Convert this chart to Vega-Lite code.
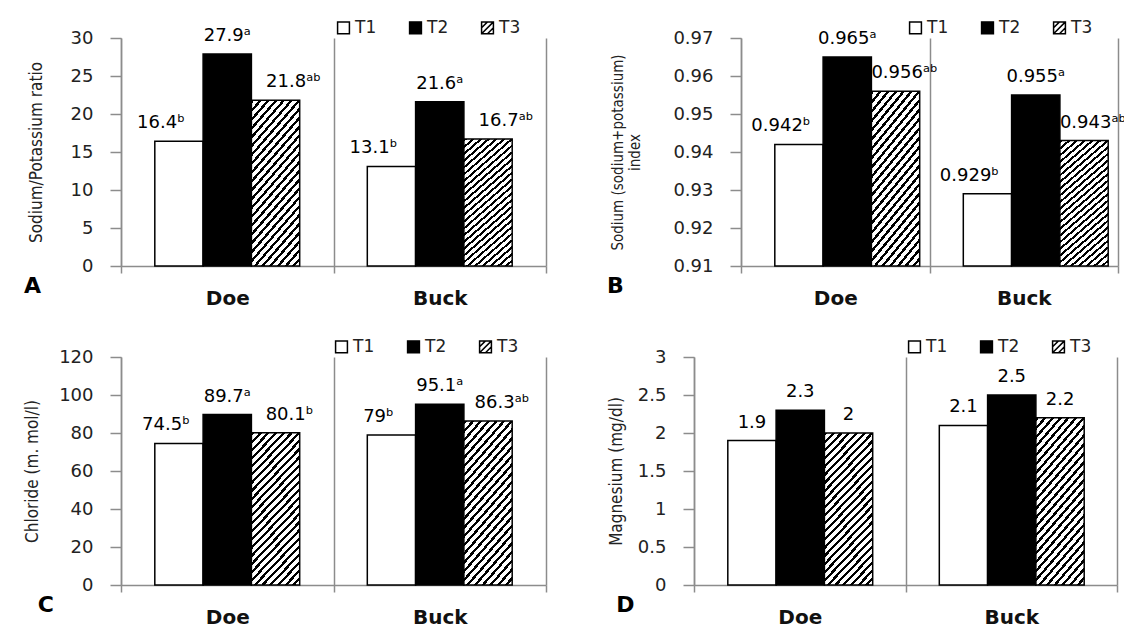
{
  "$schema": "https://vega.github.io/schema/vega-lite/v6.json",
  "background": "white",
  "padding": {"left": 23, "top": 19, "right": 0, "bottom": 0},
  "datasets": {
    "A": [
      {"g": "Doe", "t": "T1", "v": 16.4, "label": "16.4\u1d47"},
      {"g": "Doe", "t": "T2", "v": 27.9, "label": "27.9\u1d43"},
      {"g": "Doe", "t": "T3", "v": 21.8, "label": "21.8\u1d43\u1d47"},
      {"g": "Buck", "t": "T1", "v": 13.1, "label": "13.1\u1d47"},
      {"g": "Buck", "t": "T2", "v": 21.6, "label": "21.6\u1d43"},
      {"g": "Buck", "t": "T3", "v": 16.7, "label": "16.7\u1d43\u1d47"}
    ],
    "B": [
      {"g": "Doe", "t": "T1", "v": 0.942, "label": "0.942\u1d47"},
      {"g": "Doe", "t": "T2", "v": 0.965, "label": "0.965\u1d43"},
      {"g": "Doe", "t": "T3", "v": 0.956, "label": "0.956\u1d43\u1d47"},
      {"g": "Buck", "t": "T1", "v": 0.929, "label": "0.929\u1d47"},
      {"g": "Buck", "t": "T2", "v": 0.955, "label": "0.955\u1d43"},
      {"g": "Buck", "t": "T3", "v": 0.943, "label": "0.943\u1d43\u1d47"}
    ],
    "C": [
      {"g": "Doe", "t": "T1", "v": 74.5, "label": "74.5\u1d47"},
      {"g": "Doe", "t": "T2", "v": 89.7, "label": "89.7\u1d43"},
      {"g": "Doe", "t": "T3", "v": 80.1, "label": "80.1\u1d47"},
      {"g": "Buck", "t": "T1", "v": 79, "label": "79\u1d47"},
      {"g": "Buck", "t": "T2", "v": 95.1, "label": "95.1\u1d43"},
      {"g": "Buck", "t": "T3", "v": 86.3, "label": "86.3\u1d43\u1d47"}
    ],
    "D": [
      {"g": "Doe", "t": "T1", "v": 1.9, "label": "1.9"},
      {"g": "Doe", "t": "T2", "v": 2.3, "label": "2.3"},
      {"g": "Doe", "t": "T3", "v": 2, "label": "2"},
      {"g": "Buck", "t": "T1", "v": 2.1, "label": "2.1"},
      {"g": "Buck", "t": "T2", "v": 2.5, "label": "2.5"},
      {"g": "Buck", "t": "T3", "v": 2.2, "label": "2.2"}
    ]
  },
  "spacing": 30,
  "align": "none",
  "resolve": {"scale": {"fill": "independent", "shape": "independent"}, "legend": {"fill": "independent", "shape": "independent"}},
  "vconcat": [
    {
      "spacing": 59,
      "resolve": {"scale": {"fill": "independent", "shape": "independent"}, "legend": {"fill": "independent", "shape": "independent"}},
      "hconcat": [
        {
          "width": 425, "height": 228,
          "data": {"name": "A"},
          "title": {"text": "A", "orient": "bottom", "anchor": "start", "frame": "bounds", "font": "DejaVu Sans", "fontSize": 22, "fontWeight": "bold", "color": "#000", "dx": -3, "dy": -32, "offset": 0},
          "encoding": {
            "x": {"field": "g", "type": "nominal", "sort": ["Doe", "Buck"], "scale": {"paddingInner": 0, "paddingOuter": 0}, "axis": {"title": null}},
            "xOffset": {"field": "t", "type": "nominal", "sort": ["T1", "T2", "T3"], "scale": {"paddingInner": 0, "paddingOuter": 0.7}},
            "y": {"field": "v", "type": "quantitative", "scale": {"domain": [0, 30]}, "axis": {"title": "Sodium/Potassium ratio", "values": [0, 5, 10, 15, 20, 25, 30], "titlePadding": 25}}
          },
          "layer": [
            {
              "mark": {"type": "bar", "stroke": "#000", "strokeWidth": 1.5},
              "encoding": {
                "fill": {
                  "condition": {"test": "datum.t === 'T3'", "value": {"gradient": "linear", "x1": 0, "y1": 0, "x2": 0.4, "y2": 1.2, "stops": [{"offset":0,"color":"#000"},{"offset":0.016,"color":"#000"},{"offset":0.016,"color":"#fff"},{"offset":0.04,"color":"#fff"},{"offset":0.04,"color":"#000"},{"offset":0.056,"color":"#000"},{"offset":0.056,"color":"#fff"},{"offset":0.08,"color":"#fff"},{"offset":0.08,"color":"#000"},{"offset":0.096,"color":"#000"},{"offset":0.096,"color":"#fff"},{"offset":0.12,"color":"#fff"},{"offset":0.12,"color":"#000"},{"offset":0.136,"color":"#000"},{"offset":0.136,"color":"#fff"},{"offset":0.16,"color":"#fff"},{"offset":0.16,"color":"#000"},{"offset":0.176,"color":"#000"},{"offset":0.176,"color":"#fff"},{"offset":0.2,"color":"#fff"},{"offset":0.2,"color":"#000"},{"offset":0.216,"color":"#000"},{"offset":0.216,"color":"#fff"},{"offset":0.24,"color":"#fff"},{"offset":0.24,"color":"#000"},{"offset":0.256,"color":"#000"},{"offset":0.256,"color":"#fff"},{"offset":0.28,"color":"#fff"},{"offset":0.28,"color":"#000"},{"offset":0.296,"color":"#000"},{"offset":0.296,"color":"#fff"},{"offset":0.32,"color":"#fff"},{"offset":0.32,"color":"#000"},{"offset":0.336,"color":"#000"},{"offset":0.336,"color":"#fff"},{"offset":0.36,"color":"#fff"},{"offset":0.36,"color":"#000"},{"offset":0.376,"color":"#000"},{"offset":0.376,"color":"#fff"},{"offset":0.4,"color":"#fff"},{"offset":0.4,"color":"#000"},{"offset":0.416,"color":"#000"},{"offset":0.416,"color":"#fff"},{"offset":0.44,"color":"#fff"},{"offset":0.44,"color":"#000"},{"offset":0.456,"color":"#000"},{"offset":0.456,"color":"#fff"},{"offset":0.48,"color":"#fff"},{"offset":0.48,"color":"#000"},{"offset":0.496,"color":"#000"},{"offset":0.496,"color":"#fff"},{"offset":0.52,"color":"#fff"},{"offset":0.52,"color":"#000"},{"offset":0.536,"color":"#000"},{"offset":0.536,"color":"#fff"},{"offset":0.56,"color":"#fff"},{"offset":0.56,"color":"#000"},{"offset":0.576,"color":"#000"},{"offset":0.576,"color":"#fff"},{"offset":0.6,"color":"#fff"},{"offset":0.6,"color":"#000"},{"offset":0.616,"color":"#000"},{"offset":0.616,"color":"#fff"},{"offset":0.64,"color":"#fff"},{"offset":0.64,"color":"#000"},{"offset":0.656,"color":"#000"},{"offset":0.656,"color":"#fff"},{"offset":0.68,"color":"#fff"},{"offset":0.68,"color":"#000"},{"offset":0.696,"color":"#000"},{"offset":0.696,"color":"#fff"},{"offset":0.72,"color":"#fff"},{"offset":0.72,"color":"#000"},{"offset":0.736,"color":"#000"},{"offset":0.736,"color":"#fff"},{"offset":0.76,"color":"#fff"},{"offset":0.76,"color":"#000"},{"offset":0.776,"color":"#000"},{"offset":0.776,"color":"#fff"},{"offset":0.8,"color":"#fff"},{"offset":0.8,"color":"#000"},{"offset":0.816,"color":"#000"},{"offset":0.816,"color":"#fff"},{"offset":0.84,"color":"#fff"},{"offset":0.84,"color":"#000"},{"offset":0.856,"color":"#000"},{"offset":0.856,"color":"#fff"},{"offset":0.88,"color":"#fff"},{"offset":0.88,"color":"#000"},{"offset":0.896,"color":"#000"},{"offset":0.896,"color":"#fff"},{"offset":0.92,"color":"#fff"},{"offset":0.92,"color":"#000"},{"offset":0.936,"color":"#000"},{"offset":0.936,"color":"#fff"},{"offset":0.96,"color":"#fff"},{"offset":0.96,"color":"#000"},{"offset":0.976,"color":"#000"},{"offset":0.976,"color":"#fff"},{"offset":1,"color":"#fff"}]}},
                  "field": "t", "type": "nominal", "scale": {"domain": ["T1", "T2", "T3"], "range": ["#fff", "#000", "#fff"]},
                  "legend": {"title": null, "orient": "none", "legendX": 214, "legendY": -19, "direction": "horizontal"}
                }
              }
            },
            {
              "mark": {"type": "point", "filled": true, "size": 0, "opacity": 1, "stroke": "#000", "strokeWidth": 1.5},
              "encoding": {
                "fill": {"field": "t", "type": "nominal", "scale": {"domain": ["T1", "T2", "T3"], "range": ["#fff", "#000", "#fff"]},
                  "legend": {"title": null, "orient": "none", "legendX": 214, "legendY": -19, "direction": "horizontal"}},
                "shape": {"field": "t", "type": "nominal", "scale": {"domain": ["T1", "T2", "T3"], "range": ["square", "square", "M-1,-1H1V1H-1Z M-1,0L0,-1 M-1,1L1,-1 M0,1L1,0"]},
                  "legend": {"title": null, "orient": "none", "legendX": 214, "legendY": -19, "direction": "horizontal"}}
              }
            },
            {
              "mark": {"type": "text", "font": "DejaVu Sans", "fontSize": 18, "color": "#000", "baseline": "alphabetic", "dy": -13, "dx": {"expr": "datum.t === 'T1' ? -18 : (datum.t === 'T3' ? 18 : 0)"}},
              "encoding": {"text": {"field": "label"}}
            }
          ]
        },
        {
          "width": 377, "height": 228,
          "data": {"name": "B"},
          "title": {"text": "B", "orient": "bottom", "anchor": "start", "frame": "bounds", "font": "DejaVu Sans", "fontSize": 22, "fontWeight": "bold", "color": "#000", "dx": -4, "dy": -32, "offset": 0},
          "encoding": {
            "x": {"field": "g", "type": "nominal", "sort": ["Doe", "Buck"], "scale": {"paddingInner": 0, "paddingOuter": 0}, "axis": {"title": null}},
            "xOffset": {"field": "t", "type": "nominal", "sort": ["T1", "T2", "T3"], "scale": {"paddingInner": 0, "paddingOuter": 0.72}},
            "y": {"field": "v", "type": "quantitative", "scale": {"domain": [0.91, 0.97], "zero": false}, "axis": {"title": ["Sodium (sodium+potassium)", "index"], "titleFontSize": 15, "values": [0.91, 0.92, 0.93, 0.94, 0.95, 0.96, 0.97], "format": ".2f", "titlePadding": 30}}
          },
          "layer": [
            {
              "mark": {"type": "bar", "stroke": "#000", "strokeWidth": 1.5},
              "encoding": {
                "y2": {"datum": 0.91},
                "fill": {
                  "condition": {"test": "datum.t === 'T3'", "value": {"gradient": "linear", "x1": 0, "y1": 0, "x2": 0.4, "y2": 1.2, "stops": [{"offset":0,"color":"#000"},{"offset":0.016,"color":"#000"},{"offset":0.016,"color":"#fff"},{"offset":0.04,"color":"#fff"},{"offset":0.04,"color":"#000"},{"offset":0.056,"color":"#000"},{"offset":0.056,"color":"#fff"},{"offset":0.08,"color":"#fff"},{"offset":0.08,"color":"#000"},{"offset":0.096,"color":"#000"},{"offset":0.096,"color":"#fff"},{"offset":0.12,"color":"#fff"},{"offset":0.12,"color":"#000"},{"offset":0.136,"color":"#000"},{"offset":0.136,"color":"#fff"},{"offset":0.16,"color":"#fff"},{"offset":0.16,"color":"#000"},{"offset":0.176,"color":"#000"},{"offset":0.176,"color":"#fff"},{"offset":0.2,"color":"#fff"},{"offset":0.2,"color":"#000"},{"offset":0.216,"color":"#000"},{"offset":0.216,"color":"#fff"},{"offset":0.24,"color":"#fff"},{"offset":0.24,"color":"#000"},{"offset":0.256,"color":"#000"},{"offset":0.256,"color":"#fff"},{"offset":0.28,"color":"#fff"},{"offset":0.28,"color":"#000"},{"offset":0.296,"color":"#000"},{"offset":0.296,"color":"#fff"},{"offset":0.32,"color":"#fff"},{"offset":0.32,"color":"#000"},{"offset":0.336,"color":"#000"},{"offset":0.336,"color":"#fff"},{"offset":0.36,"color":"#fff"},{"offset":0.36,"color":"#000"},{"offset":0.376,"color":"#000"},{"offset":0.376,"color":"#fff"},{"offset":0.4,"color":"#fff"},{"offset":0.4,"color":"#000"},{"offset":0.416,"color":"#000"},{"offset":0.416,"color":"#fff"},{"offset":0.44,"color":"#fff"},{"offset":0.44,"color":"#000"},{"offset":0.456,"color":"#000"},{"offset":0.456,"color":"#fff"},{"offset":0.48,"color":"#fff"},{"offset":0.48,"color":"#000"},{"offset":0.496,"color":"#000"},{"offset":0.496,"color":"#fff"},{"offset":0.52,"color":"#fff"},{"offset":0.52,"color":"#000"},{"offset":0.536,"color":"#000"},{"offset":0.536,"color":"#fff"},{"offset":0.56,"color":"#fff"},{"offset":0.56,"color":"#000"},{"offset":0.576,"color":"#000"},{"offset":0.576,"color":"#fff"},{"offset":0.6,"color":"#fff"},{"offset":0.6,"color":"#000"},{"offset":0.616,"color":"#000"},{"offset":0.616,"color":"#fff"},{"offset":0.64,"color":"#fff"},{"offset":0.64,"color":"#000"},{"offset":0.656,"color":"#000"},{"offset":0.656,"color":"#fff"},{"offset":0.68,"color":"#fff"},{"offset":0.68,"color":"#000"},{"offset":0.696,"color":"#000"},{"offset":0.696,"color":"#fff"},{"offset":0.72,"color":"#fff"},{"offset":0.72,"color":"#000"},{"offset":0.736,"color":"#000"},{"offset":0.736,"color":"#fff"},{"offset":0.76,"color":"#fff"},{"offset":0.76,"color":"#000"},{"offset":0.776,"color":"#000"},{"offset":0.776,"color":"#fff"},{"offset":0.8,"color":"#fff"},{"offset":0.8,"color":"#000"},{"offset":0.816,"color":"#000"},{"offset":0.816,"color":"#fff"},{"offset":0.84,"color":"#fff"},{"offset":0.84,"color":"#000"},{"offset":0.856,"color":"#000"},{"offset":0.856,"color":"#fff"},{"offset":0.88,"color":"#fff"},{"offset":0.88,"color":"#000"},{"offset":0.896,"color":"#000"},{"offset":0.896,"color":"#fff"},{"offset":0.92,"color":"#fff"},{"offset":0.92,"color":"#000"},{"offset":0.936,"color":"#000"},{"offset":0.936,"color":"#fff"},{"offset":0.96,"color":"#fff"},{"offset":0.96,"color":"#000"},{"offset":0.976,"color":"#000"},{"offset":0.976,"color":"#fff"},{"offset":1,"color":"#fff"}]}},
                  "field": "t", "type": "nominal", "scale": {"domain": ["T1", "T2", "T3"], "range": ["#fff", "#000", "#fff"]},
                  "legend": {"title": null, "orient": "none", "legendX": 166, "legendY": -19, "direction": "horizontal"}
                }
              }
            },
            {
              "mark": {"type": "point", "filled": true, "size": 0, "opacity": 1, "stroke": "#000", "strokeWidth": 1.5},
              "encoding": {
                "fill": {"field": "t", "type": "nominal", "scale": {"domain": ["T1", "T2", "T3"], "range": ["#fff", "#000", "#fff"]},
                  "legend": {"title": null, "orient": "none", "legendX": 166, "legendY": -19, "direction": "horizontal"}},
                "shape": {"field": "t", "type": "nominal", "scale": {"domain": ["T1", "T2", "T3"], "range": ["square", "square", "M-1,-1H1V1H-1Z M-1,0L0,-1 M-1,1L1,-1 M0,1L1,0"]},
                  "legend": {"title": null, "orient": "none", "legendX": 166, "legendY": -19, "direction": "horizontal"}}
              }
            },
            {
              "mark": {"type": "text", "font": "DejaVu Sans", "fontSize": 18, "color": "#000", "baseline": "alphabetic", "dy": -13, "dx": {"expr": "datum.t === 'T1' ? -18 : (datum.t === 'T3' ? 9 : 0)"}},
              "encoding": {"text": {"field": "label"}}
            }
          ]
        }
      ]
    },
    {
      "spacing": 60,
      "resolve": {"scale": {"fill": "independent", "shape": "independent"}, "legend": {"fill": "independent", "shape": "independent"}},
      "hconcat": [
        {
          "width": 425, "height": 228,
          "data": {"name": "C"},
          "title": {"text": "C", "orient": "bottom", "anchor": "start", "frame": "bounds", "font": "DejaVu Sans", "fontSize": 22, "fontWeight": "bold", "color": "#000", "dx": 14, "dy": -32, "offset": 0},
          "encoding": {
            "x": {"field": "g", "type": "nominal", "sort": ["Doe", "Buck"], "scale": {"paddingInner": 0, "paddingOuter": 0}, "axis": {"title": null}},
            "xOffset": {"field": "t", "type": "nominal", "sort": ["T1", "T2", "T3"], "scale": {"paddingInner": 0, "paddingOuter": 0.7}},
            "y": {"field": "v", "type": "quantitative", "scale": {"domain": [0, 120]}, "axis": {"title": "Chloride (m. mol/l)", "values": [0, 20, 40, 60, 80, 100, 120], "titlePadding": 17}}
          },
          "layer": [
            {
              "mark": {"type": "bar", "stroke": "#000", "strokeWidth": 1.5},
              "encoding": {
                "fill": {
                  "condition": {"test": "datum.t === 'T3'", "value": {"gradient": "linear", "x1": 0, "y1": 0, "x2": 0.4, "y2": 1.2, "stops": [{"offset":0,"color":"#000"},{"offset":0.016,"color":"#000"},{"offset":0.016,"color":"#fff"},{"offset":0.04,"color":"#fff"},{"offset":0.04,"color":"#000"},{"offset":0.056,"color":"#000"},{"offset":0.056,"color":"#fff"},{"offset":0.08,"color":"#fff"},{"offset":0.08,"color":"#000"},{"offset":0.096,"color":"#000"},{"offset":0.096,"color":"#fff"},{"offset":0.12,"color":"#fff"},{"offset":0.12,"color":"#000"},{"offset":0.136,"color":"#000"},{"offset":0.136,"color":"#fff"},{"offset":0.16,"color":"#fff"},{"offset":0.16,"color":"#000"},{"offset":0.176,"color":"#000"},{"offset":0.176,"color":"#fff"},{"offset":0.2,"color":"#fff"},{"offset":0.2,"color":"#000"},{"offset":0.216,"color":"#000"},{"offset":0.216,"color":"#fff"},{"offset":0.24,"color":"#fff"},{"offset":0.24,"color":"#000"},{"offset":0.256,"color":"#000"},{"offset":0.256,"color":"#fff"},{"offset":0.28,"color":"#fff"},{"offset":0.28,"color":"#000"},{"offset":0.296,"color":"#000"},{"offset":0.296,"color":"#fff"},{"offset":0.32,"color":"#fff"},{"offset":0.32,"color":"#000"},{"offset":0.336,"color":"#000"},{"offset":0.336,"color":"#fff"},{"offset":0.36,"color":"#fff"},{"offset":0.36,"color":"#000"},{"offset":0.376,"color":"#000"},{"offset":0.376,"color":"#fff"},{"offset":0.4,"color":"#fff"},{"offset":0.4,"color":"#000"},{"offset":0.416,"color":"#000"},{"offset":0.416,"color":"#fff"},{"offset":0.44,"color":"#fff"},{"offset":0.44,"color":"#000"},{"offset":0.456,"color":"#000"},{"offset":0.456,"color":"#fff"},{"offset":0.48,"color":"#fff"},{"offset":0.48,"color":"#000"},{"offset":0.496,"color":"#000"},{"offset":0.496,"color":"#fff"},{"offset":0.52,"color":"#fff"},{"offset":0.52,"color":"#000"},{"offset":0.536,"color":"#000"},{"offset":0.536,"color":"#fff"},{"offset":0.56,"color":"#fff"},{"offset":0.56,"color":"#000"},{"offset":0.576,"color":"#000"},{"offset":0.576,"color":"#fff"},{"offset":0.6,"color":"#fff"},{"offset":0.6,"color":"#000"},{"offset":0.616,"color":"#000"},{"offset":0.616,"color":"#fff"},{"offset":0.64,"color":"#fff"},{"offset":0.64,"color":"#000"},{"offset":0.656,"color":"#000"},{"offset":0.656,"color":"#fff"},{"offset":0.68,"color":"#fff"},{"offset":0.68,"color":"#000"},{"offset":0.696,"color":"#000"},{"offset":0.696,"color":"#fff"},{"offset":0.72,"color":"#fff"},{"offset":0.72,"color":"#000"},{"offset":0.736,"color":"#000"},{"offset":0.736,"color":"#fff"},{"offset":0.76,"color":"#fff"},{"offset":0.76,"color":"#000"},{"offset":0.776,"color":"#000"},{"offset":0.776,"color":"#fff"},{"offset":0.8,"color":"#fff"},{"offset":0.8,"color":"#000"},{"offset":0.816,"color":"#000"},{"offset":0.816,"color":"#fff"},{"offset":0.84,"color":"#fff"},{"offset":0.84,"color":"#000"},{"offset":0.856,"color":"#000"},{"offset":0.856,"color":"#fff"},{"offset":0.88,"color":"#fff"},{"offset":0.88,"color":"#000"},{"offset":0.896,"color":"#000"},{"offset":0.896,"color":"#fff"},{"offset":0.92,"color":"#fff"},{"offset":0.92,"color":"#000"},{"offset":0.936,"color":"#000"},{"offset":0.936,"color":"#fff"},{"offset":0.96,"color":"#fff"},{"offset":0.96,"color":"#000"},{"offset":0.976,"color":"#000"},{"offset":0.976,"color":"#fff"},{"offset":1,"color":"#fff"}]}},
                  "field": "t", "type": "nominal", "scale": {"domain": ["T1", "T2", "T3"], "range": ["#fff", "#000", "#fff"]},
                  "legend": {"title": null, "orient": "none", "legendX": 212, "legendY": -19, "direction": "horizontal"}
                }
              }
            },
            {
              "mark": {"type": "point", "filled": true, "size": 0, "opacity": 1, "stroke": "#000", "strokeWidth": 1.5},
              "encoding": {
                "fill": {"field": "t", "type": "nominal", "scale": {"domain": ["T1", "T2", "T3"], "range": ["#fff", "#000", "#fff"]},
                  "legend": {"title": null, "orient": "none", "legendX": 212, "legendY": -19, "direction": "horizontal"}},
                "shape": {"field": "t", "type": "nominal", "scale": {"domain": ["T1", "T2", "T3"], "range": ["square", "square", "M-1,-1H1V1H-1Z M-1,0L0,-1 M-1,1L1,-1 M0,1L1,0"]},
                  "legend": {"title": null, "orient": "none", "legendX": 212, "legendY": -19, "direction": "horizontal"}}
              }
            },
            {
              "mark": {"type": "text", "font": "DejaVu Sans", "fontSize": 18, "color": "#000", "baseline": "alphabetic", "dy": -13, "dx": {"expr": "datum.t === 'T1' ? -13 : (datum.t === 'T3' ? 14 : 0)"}},
              "encoding": {"text": {"field": "label"}}
            }
          ]
        },
        {
          "width": 423, "height": 228,
          "data": {"name": "D"},
          "title": {"text": "D", "orient": "bottom", "anchor": "start", "frame": "bounds", "font": "DejaVu Sans", "fontSize": 22, "fontWeight": "bold", "color": "#000", "dx": 9, "dy": -32, "offset": 0},
          "encoding": {
            "x": {"field": "g", "type": "nominal", "sort": ["Doe", "Buck"], "scale": {"paddingInner": 0, "paddingOuter": 0}, "axis": {"title": null}},
            "xOffset": {"field": "t", "type": "nominal", "sort": ["T1", "T2", "T3"], "scale": {"paddingInner": 0, "paddingOuter": 0.7}},
            "y": {"field": "v", "type": "quantitative", "scale": {"domain": [0, 3]}, "axis": {"title": "Magnesium (mg/dl)", "values": [0, 0.5, 1, 1.5, 2, 2.5, 3], "format": "~g", "titlePadding": 12}}
          },
          "layer": [
            {
              "mark": {"type": "bar", "stroke": "#000", "strokeWidth": 1.5},
              "encoding": {
                "fill": {
                  "condition": {"test": "datum.t === 'T3'", "value": {"gradient": "linear", "x1": 0, "y1": 0, "x2": 0.4, "y2": 1.2, "stops": [{"offset":0,"color":"#000"},{"offset":0.016,"color":"#000"},{"offset":0.016,"color":"#fff"},{"offset":0.04,"color":"#fff"},{"offset":0.04,"color":"#000"},{"offset":0.056,"color":"#000"},{"offset":0.056,"color":"#fff"},{"offset":0.08,"color":"#fff"},{"offset":0.08,"color":"#000"},{"offset":0.096,"color":"#000"},{"offset":0.096,"color":"#fff"},{"offset":0.12,"color":"#fff"},{"offset":0.12,"color":"#000"},{"offset":0.136,"color":"#000"},{"offset":0.136,"color":"#fff"},{"offset":0.16,"color":"#fff"},{"offset":0.16,"color":"#000"},{"offset":0.176,"color":"#000"},{"offset":0.176,"color":"#fff"},{"offset":0.2,"color":"#fff"},{"offset":0.2,"color":"#000"},{"offset":0.216,"color":"#000"},{"offset":0.216,"color":"#fff"},{"offset":0.24,"color":"#fff"},{"offset":0.24,"color":"#000"},{"offset":0.256,"color":"#000"},{"offset":0.256,"color":"#fff"},{"offset":0.28,"color":"#fff"},{"offset":0.28,"color":"#000"},{"offset":0.296,"color":"#000"},{"offset":0.296,"color":"#fff"},{"offset":0.32,"color":"#fff"},{"offset":0.32,"color":"#000"},{"offset":0.336,"color":"#000"},{"offset":0.336,"color":"#fff"},{"offset":0.36,"color":"#fff"},{"offset":0.36,"color":"#000"},{"offset":0.376,"color":"#000"},{"offset":0.376,"color":"#fff"},{"offset":0.4,"color":"#fff"},{"offset":0.4,"color":"#000"},{"offset":0.416,"color":"#000"},{"offset":0.416,"color":"#fff"},{"offset":0.44,"color":"#fff"},{"offset":0.44,"color":"#000"},{"offset":0.456,"color":"#000"},{"offset":0.456,"color":"#fff"},{"offset":0.48,"color":"#fff"},{"offset":0.48,"color":"#000"},{"offset":0.496,"color":"#000"},{"offset":0.496,"color":"#fff"},{"offset":0.52,"color":"#fff"},{"offset":0.52,"color":"#000"},{"offset":0.536,"color":"#000"},{"offset":0.536,"color":"#fff"},{"offset":0.56,"color":"#fff"},{"offset":0.56,"color":"#000"},{"offset":0.576,"color":"#000"},{"offset":0.576,"color":"#fff"},{"offset":0.6,"color":"#fff"},{"offset":0.6,"color":"#000"},{"offset":0.616,"color":"#000"},{"offset":0.616,"color":"#fff"},{"offset":0.64,"color":"#fff"},{"offset":0.64,"color":"#000"},{"offset":0.656,"color":"#000"},{"offset":0.656,"color":"#fff"},{"offset":0.68,"color":"#fff"},{"offset":0.68,"color":"#000"},{"offset":0.696,"color":"#000"},{"offset":0.696,"color":"#fff"},{"offset":0.72,"color":"#fff"},{"offset":0.72,"color":"#000"},{"offset":0.736,"color":"#000"},{"offset":0.736,"color":"#fff"},{"offset":0.76,"color":"#fff"},{"offset":0.76,"color":"#000"},{"offset":0.776,"color":"#000"},{"offset":0.776,"color":"#fff"},{"offset":0.8,"color":"#fff"},{"offset":0.8,"color":"#000"},{"offset":0.816,"color":"#000"},{"offset":0.816,"color":"#fff"},{"offset":0.84,"color":"#fff"},{"offset":0.84,"color":"#000"},{"offset":0.856,"color":"#000"},{"offset":0.856,"color":"#fff"},{"offset":0.88,"color":"#fff"},{"offset":0.88,"color":"#000"},{"offset":0.896,"color":"#000"},{"offset":0.896,"color":"#fff"},{"offset":0.92,"color":"#fff"},{"offset":0.92,"color":"#000"},{"offset":0.936,"color":"#000"},{"offset":0.936,"color":"#fff"},{"offset":0.96,"color":"#fff"},{"offset":0.96,"color":"#000"},{"offset":0.976,"color":"#000"},{"offset":0.976,"color":"#fff"},{"offset":1,"color":"#fff"}]}},
                  "field": "t", "type": "nominal", "scale": {"domain": ["T1", "T2", "T3"], "range": ["#fff", "#000", "#fff"]},
                  "legend": {"title": null, "orient": "none", "legendX": 212, "legendY": -19, "direction": "horizontal"}
                }
              }
            },
            {
              "mark": {"type": "point", "filled": true, "size": 0, "opacity": 1, "stroke": "#000", "strokeWidth": 1.5},
              "encoding": {
                "fill": {"field": "t", "type": "nominal", "scale": {"domain": ["T1", "T2", "T3"], "range": ["#fff", "#000", "#fff"]},
                  "legend": {"title": null, "orient": "none", "legendX": 212, "legendY": -19, "direction": "horizontal"}},
                "shape": {"field": "t", "type": "nominal", "scale": {"domain": ["T1", "T2", "T3"], "range": ["square", "square", "M-1,-1H1V1H-1Z M-1,0L0,-1 M-1,1L1,-1 M0,1L1,0"]},
                  "legend": {"title": null, "orient": "none", "legendX": 212, "legendY": -19, "direction": "horizontal"}}
              }
            },
            {
              "mark": {"type": "text", "font": "DejaVu Sans", "fontSize": 18, "color": "#000", "baseline": "alphabetic", "dy": -13},
              "encoding": {"text": {"field": "label"}}
            }
          ]
        }
      ]
    }
  ],
  "config": {
    "view": {"stroke": null},
    "axis": {"domainColor": "#8c8c8c", "domainWidth": 1.5, "tickColor": "#8c8c8c", "tickWidth": 1.5, "labelFont": "DejaVu Sans", "labelFontSize": 18, "labelColor": "#222", "titleFont": "DejaVu Sans Condensed", "titleFontSize": 17, "titleFontWeight": "normal", "titleColor": "#222"},
    "axisX": {"labelFontWeight": "bold", "labelFontSize": 20, "labelAngle": 0, "grid": true, "gridColor": "#8c8c8c", "gridWidth": 1.5, "tickBand": "extent", "tickSize": 7, "labelPadding": 15, "labelColor": "#111"},
    "axisY": {"grid": false, "tickSize": 11, "labelPadding": 17},
    "legend": {"symbolType": "square", "symbolSize": 140, "symbolStrokeColor": "#000", "symbolStrokeWidth": 1.5, "labelFont": "DejaVu Sans", "labelFontSize": 17, "labelColor": "#222", "columnPadding": 29, "labelOffset": 3}
  }
}
